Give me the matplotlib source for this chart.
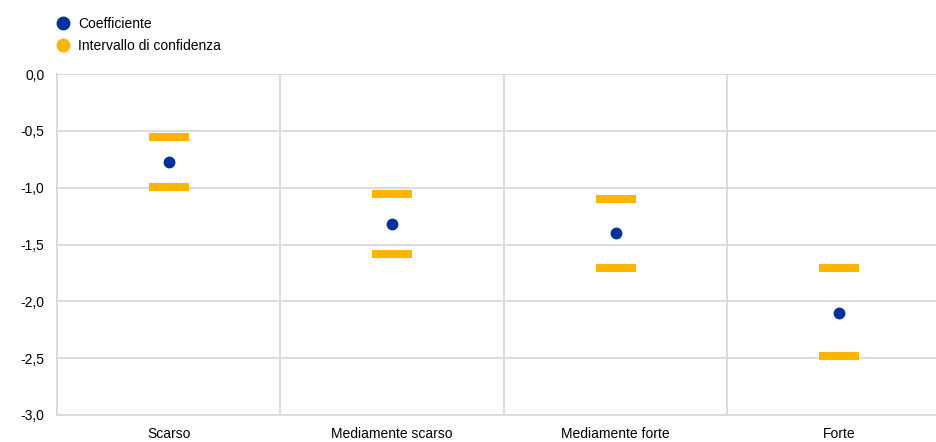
import numpy as np
import matplotlib.pyplot as plt
from matplotlib.lines import Line2D

plt.rcParams['font.family'] = ['Liberation Sans', 'DejaVu Sans']

# categories and estimates
categories = ['Scarso', 'Mediamente scarso', 'Mediamente forte', 'Forte']
coeff = [-0.77, -1.32, -1.40, -2.10]
ci_upper = [-0.55, -1.06, -1.10, -1.71]
ci_lower = [-0.99, -1.58, -1.71, -2.48]
yticks = [0.0, -0.5, -1.0, -1.5, -2.0, -2.5, -3.0]

blue = '#003299'
yellow = '#ffb400'
grid_col = '#d9d9d9'

W, H = 937, 442
fig = plt.figure(figsize=(W / 100, H / 100), dpi=100)
# plot area runs past the right edge of the image, as in the original
ax = fig.add_axes([57 / W, (H - 415) / H, (951 - 57) / W, (415 - 74) / H])

x = np.arange(len(categories))
ax.plot(x, ci_upper, ls='none', marker='_', ms=29, mew=5.8, color=yellow, zorder=3)
ax.plot(x, ci_lower, ls='none', marker='_', ms=29, mew=5.8, color=yellow, zorder=3)
ax.plot(x, coeff, ls='none', marker='o', ms=7.5, color=blue, zorder=4)

ax.set_xlim(-0.5, len(categories) - 0.5)
ax.set_ylim(-3.0, 0.0)
ax.set_yticks(yticks)
ax.set_yticklabels([f'{v:.1f}'.replace('.', ',') for v in yticks], fontsize=10)
ax.set_xticks(x)
ax.set_xticklabels(categories, fontsize=10)
ax.set_xticks(np.arange(len(categories) + 1) - 0.5, minor=True)
ax.tick_params(axis='both', which='both', length=0, colors='#000000')
ax.tick_params(axis='y', pad=9)
ax.tick_params(axis='x', pad=9)
ax.grid(axis='y', which='major', color=grid_col, lw=1.3)
ax.grid(axis='x', which='minor', color=grid_col, lw=1.3)
ax.grid(axis='x', which='major', visible=False)
for side in ['top', 'right']:
    ax.spines[side].set_visible(False)
for side in ['left', 'bottom']:
    ax.spines[side].set_color(grid_col)
    ax.spines[side].set_linewidth(1.3)
ax.set_axisbelow(True)

handles = [
    Line2D([], [], ls='none', marker='o', ms=9, color=blue, label='Coefficiente'),
    Line2D([], [], ls='none', marker='o', ms=9, color=yellow, label='Intervallo di confidenza'),
]
fig.legend(handles=handles, loc='upper left', bbox_to_anchor=(56 / W, 1 - 17 / H),
           frameon=False, fontsize=10, handlelength=1.0, handletextpad=0.6,
           labelspacing=0.6, borderaxespad=0, borderpad=0)

fig.savefig('out.png', dpi=100)
